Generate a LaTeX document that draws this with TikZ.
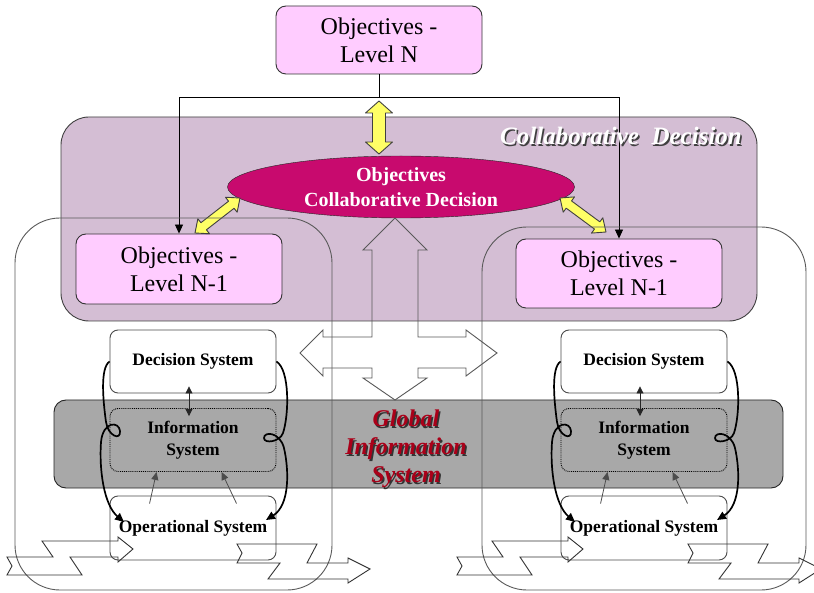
\documentclass[tikz,border=0pt]{standalone}
\usepackage{fontspec}
\setmainfont{Liberation Serif}
\usetikzlibrary{shapes.geometric,arrows.meta,calc}
\definecolor{pinkbox}{RGB}{255,204,255}
\definecolor{collab}{RGB}{212,190,212}
\definecolor{ellcol}{RGB}{200,10,110}
\definecolor{bandgray}{RGB}{168,168,168}
\definecolor{yel}{RGB}{255,255,102}
\definecolor{gisred}{RGB}{170,0,25}
\tikzset{
 objbox/.style={draw=black!80, fill=pinkbox, line width=0.9pt, rounded corners=10pt, minimum width=206pt, minimum height=69pt, inner sep=0pt, align=center, font=\fontsize{24}{28}\selectfont},
 sysbox/.style={draw=black!70, fill=white, line width=0.9pt, rounded corners=8pt, minimum width=166pt, minimum height=63pt, inner sep=0pt, align=center, font=\bfseries\fontsize{17.5}{22}\selectfont},
 infbox/.style={sysbox, fill=none, draw=black, line width=0.9pt, densely dotted},
 conn/.style={draw=black, line width=0.9pt},
 tri/.style={-{Triangle[length=9pt,width=8pt]}},
 yarr/.style={draw=black!75, fill=yel, line width=0.9pt, line join=round},
 hollow/.style={draw=black!65, line width=0.9pt, line join=miter},
 zig/.style={draw=black!80, line width=0.9pt, line join=miter},
 outline/.style={draw=black!65, line width=0.9pt},
 loopar/.style={draw=black, line width=1.7pt, -{Triangle[length=9pt,width=8pt]}},
 smallar/.style={draw=black!70, line width=0.8pt, -{Triangle[length=8pt,width=7pt]}},
}
\newcommand\fatdarrow[5]{%
 \coordinate (fa1) at ($(#1)!#3!(#2)$);
 \coordinate (fa2) at ($(#2)!#3!(#1)$);
 \draw[yarr] (#1) -- ($(fa1)!#4!90:(#2)$) -- ($(fa1)!#5!90:(#2)$) -- ($(fa2)!#5!-90:(#1)$) -- ($(fa2)!#4!-90:(#1)$) -- (#2) -- ($(fa2)!#4!90:(#1)$) -- ($(fa2)!#5!90:(#1)$) -- ($(fa1)!#5!-90:(#2)$) -- ($(fa1)!#4!-90:(#2)$) -- cycle;}
\newcommand\subsys[2]{%
 \begin{scope}[xshift=#2pt]
 \node[sysbox] (dec#1) at (193,361.5) {Decision System};
 \node[infbox] (inf#1) at (193,440) {Information\\System};
 \node[sysbox, minimum height=64pt] (op#1) at (193,528) {Operational System};
 \draw[draw=black!85, line width=0.8pt, {Triangle[length=7pt,width=7pt]}-{Triangle[length=7pt,width=7pt]}] ($(dec#1.south)+(-4,-7)$) -- ($(inf#1.north)+(-4,8)$);
 \draw[smallar] ($(op#1.north west)+(40,8)$) -- ($(inf#1.south west)+(47,0)$);
 \draw[smallar] ($(op#1.north west)+(127,8)$) -- ($(inf#1.south west)+(112,0)$);
 \draw[loopar] (dec#1.west) .. controls (100,368) and (103,400) .. (106,422) .. controls (108,436) and (121,441) .. (120,431) .. controls (119,421) and (103,421) .. (101,442) .. controls (99,470) and (104,505) .. (124,522);
 \draw[loopar] (dec#1.east) .. controls (290,370) and (289,415) .. (283,433) .. controls (280,442) and (264,444) .. (264,438) .. controls (264,431) and (280,432) .. (284,448) .. controls (289,470) and (290,505) .. (266,520);
 \end{scope}}
\newcommand\zigA[1]{%
 \draw[zig, xshift=#1pt] (7,557) -- (53,557) -- (42,541) -- (118,541) -- (118,537) -- (133,549) -- (118,562) -- (118,557) -- (70,557) -- (82,575) -- (7,575) -- (12,566) -- cycle;}
\newcommand\zigB[1]{%
 \draw[zig, xshift=#1pt] (237,544) -- (317,544) -- (307,563) -- (348,563) -- (348,558) -- (370,569) -- (348,583) -- (348,579) -- (268,579) -- (280,563) -- (237,563) -- (242,553) -- cycle;}
\begin{document}
\begin{tikzpicture}[x=1pt,y=-1pt]
\useasboundingbox (0,0) rectangle (814,593);
\fill[white] (0,0) rectangle (814,593);
\clip (0,0) rectangle (814,593);
% regions
\draw[draw=black!75, fill=collab, line width=0.9pt, rounded corners=28pt] (61,117) rectangle (757,321);
\draw[draw=black!85, fill=bandgray, line width=0.9pt, rounded corners=12pt] (54,400) rectangle (783,488);
% top level
\node[objbox, minimum height=68pt] (lvN) at (379,40) {Objectives -\\Level N};
\node[objbox, minimum height=70pt] (lvL) at (179,269) {Objectives -\\Level N-1};
\node[objbox] (lvR) at (619,273.5) {Objectives -\\Level N-1};
\coordinate (hub) at (379,97);
\draw[conn] (lvN.south) -- (hub);
\draw[conn, tri] (hub) -| (lvL.north);
\draw[conn, tri] (hub) -| (lvR.north);
% ellipse
\node[ellipse, draw=black!85, fill=ellcol, minimum width=347pt, minimum height=62pt, inner sep=0pt, align=center, text=white, font=\bfseries\fontsize{20}{25}\selectfont] (ell) at (401,187) {Objectives\\Collaborative Decision};
% yellow arrows
\coordinate (ya1) at (379,101);
\coordinate (ya2) at (379,154);
\fatdarrow{ya1}{ya2}{12pt}{13.5pt}{6.5pt}
\coordinate (yl1) at (240,198);
\coordinate (yl2) at (195,233);
\fatdarrow{yl1}{yl2}{11pt}{9.5pt}{4.5pt}
\coordinate (yr1) at (560,198);
\coordinate (yr2) at (606,232);
\fatdarrow{yr1}{yr2}{11pt}{9.5pt}{4.5pt}
% big outlines
\draw[outline, rounded corners=45pt] (15,218) rectangle (332,590);
\draw[outline, rounded corners=45pt] (482,227) rectangle (806,590);
% four-way hollow arrow
\draw[hollow] (395,218) -- (427,250) -- (418,250) -- (418,337) -- (466,337) -- (466,330) -- (497,353) -- (466,376) -- (466,368) -- (418,368) -- (418,378) -- (427,378) -- (395,400) -- (363,378) -- (372,378) -- (372,368) -- (323,368) -- (323,376) -- (300,353) -- (323,330) -- (323,337) -- (372,337) -- (372,250) -- (363,250) -- cycle;
% subsystems
\subsys{L}{0}
\subsys{R}{451}
% zigzag arrows
\zigA{0}
\zigB{0}
\zigA{450}
\zigB{451}
% labels
\node[text=black!75, font=\bfseries\itshape\fontsize{25}{28}\selectfont] (cdsh) at (622.5,137.5) {Collaborative~~Decision};
\node[text=white, font=\bfseries\itshape\fontsize{25}{28}\selectfont] (cdl) at (621,136) {Collaborative~~Decision};
\node[text=black!80, align=center, font=\bfseries\itshape\fontsize{24}{28}\selectfont] (gissh) at (407.5,450.5) {Global\\Information\\System};
\node[text=gisred, align=center, font=\bfseries\itshape\fontsize{24}{28}\selectfont] (gis) at (406,449) {Global\\Information\\System};
\end{tikzpicture}
\end{document}
